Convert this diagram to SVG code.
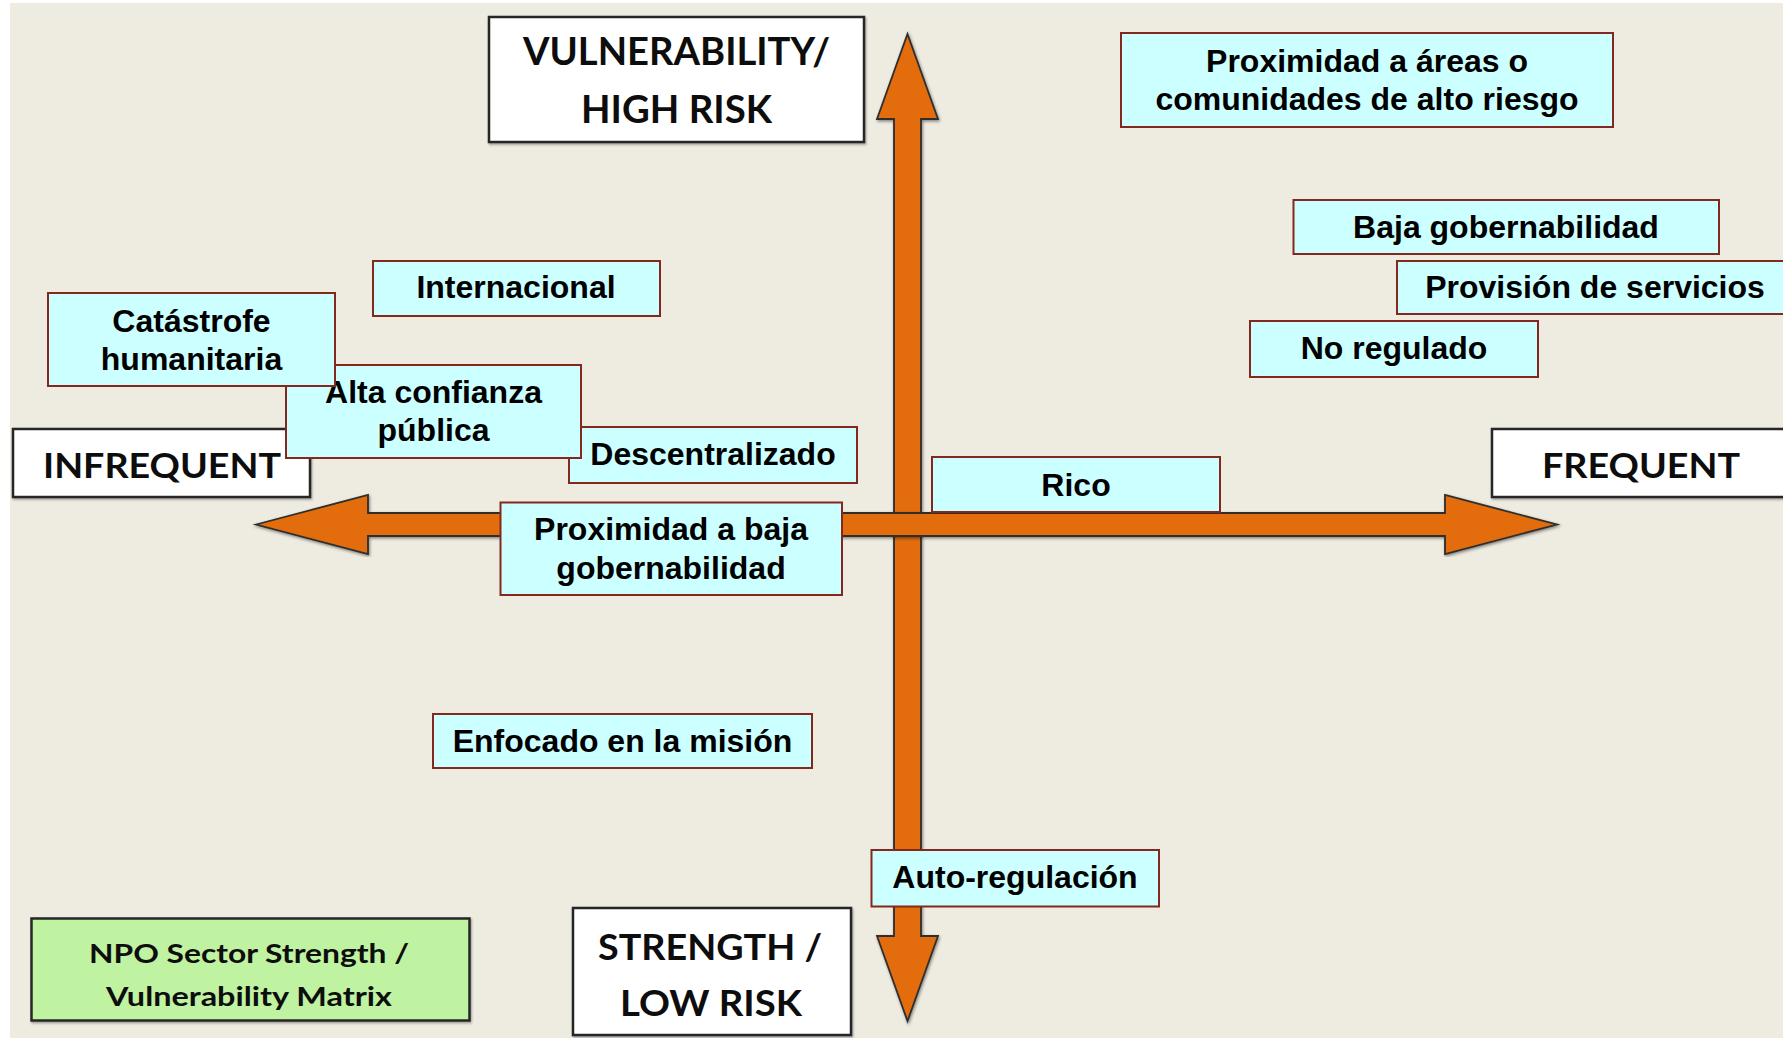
<svg xmlns="http://www.w3.org/2000/svg" width="1783" height="1038" viewBox="0 0 1783 1038">
  <style>
    .tag rect { fill: #CCFFFF; stroke: #84281D; stroke-width: 2; }
    .tag text { font-family: "Liberation Sans", Arial, sans-serif; font-weight: bold; font-size: 32px; fill: #000; text-anchor: middle; }
    .pole rect { fill: #FFFFFF; stroke: #262626; stroke-width: 2.5; filter: url(#boxShadow); }
    .pole text, .title text { font-family: Lato, "Open Sans", sans-serif; font-weight: bold; fill: #0D0D0D; text-anchor: middle; }
    .title rect { fill: #BFF2A1; stroke: #262626; stroke-width: 2.5; filter: url(#boxShadow); }
    .axis { fill: #E36C0A; stroke: #2E2E2E; stroke-width: 1.8; stroke-linejoin: miter; filter: url(#axisShadow); }
  </style>
  <defs>
    <filter id="axisShadow" x="-5%" y="-5%" width="110%" height="110%">
      <feDropShadow dx="1" dy="1.5" stdDeviation="1.5" flood-color="#000" flood-opacity="0.45"/>
    </filter>
    <filter id="boxShadow" x="-5%" y="-5%" width="110%" height="115%">
      <feDropShadow dx="1" dy="1.5" stdDeviation="1" flood-color="#000" flood-opacity="0.35"/>
    </filter>
  </defs>

  <!-- canvas -->
  <rect x="0" y="0" width="1783" height="1038" fill="#FFFFFF"/>
  <rect x="10" y="3" width="1773" height="1035" fill="#EEEBE1"/>

  <!-- axes: vertical (vulnerability / strength) and horizontal (infrequent / frequent) -->
  <g id="axes">
    <path class="axis" d="M907.5,34 L938,119 L921,119 L921,936 L938,936 L907.5,1021 L877,936 L894,936 L894,119 L877,119 Z"/>
    <path class="axis" d="M256,524.5 L368,495 L368,513 L1445,513 L1445,495 L1557,524.5 L1445,554 L1445,536 L368,536 L368,554 Z"/>
  </g>

  <!-- axis pole labels -->
  <g id="pole-high-risk" class="pole">
    <rect x="489" y="17" width="375" height="125"/>
    <text x="676.5" y="65" font-size="38" textLength="307" lengthAdjust="spacingAndGlyphs">VULNERABILITY/</text>
    <text x="676.5" y="123" font-size="38" textLength="191" lengthAdjust="spacingAndGlyphs">HIGH RISK</text>
  </g>
  <g id="pole-infrequent" class="pole">
    <rect x="13" y="429" width="297" height="68"/>
    <text x="162" y="478" font-size="35" textLength="238" lengthAdjust="spacingAndGlyphs">INFREQUENT</text>
  </g>
  <g id="pole-frequent" class="pole">
    <rect x="1492" y="429" width="310" height="68"/>
    <text x="1641" y="478" font-size="35" textLength="198" lengthAdjust="spacingAndGlyphs">FREQUENT</text>
  </g>
  <g id="pole-low-risk" class="pole">
    <rect x="573" y="908" width="278" height="127"/>
    <text x="710" y="960" font-size="36" textLength="224" lengthAdjust="spacingAndGlyphs">STRENGTH /</text>
    <text x="711" y="1016" font-size="36" textLength="182" lengthAdjust="spacingAndGlyphs">LOW RISK</text>
  </g>

  <!-- matrix title -->
  <g id="matrix-title" class="title">
    <rect x="31.5" y="918.5" width="438" height="102"/>
    <text x="249" y="963" font-size="27" textLength="320" lengthAdjust="spacingAndGlyphs">NPO Sector Strength /</text>
    <text x="249" y="1006" font-size="27" textLength="286" lengthAdjust="spacingAndGlyphs">Vulnerability Matrix</text>
  </g>

  <!-- factor tags -->
  <g id="tag-descentralizado" class="tag">
    <rect x="569" y="427" width="288" height="56"/>
    <text x="713" y="465">Descentralizado</text>
  </g>
  <g id="tag-alta-confianza" class="tag">
    <rect x="286" y="365" width="295" height="93"/>
    <text x="433.5" y="403">Alta confianza</text>
    <text x="433.5" y="441">pública</text>
  </g>
  <g id="tag-catastrofe" class="tag">
    <rect x="48" y="293" width="287" height="93"/>
    <text x="191.5" y="332">Catástrofe</text>
    <text x="191.5" y="370">humanitaria</text>
  </g>
  <g id="tag-internacional" class="tag">
    <rect x="373" y="261" width="287" height="55"/>
    <text x="516" y="298">Internacional</text>
  </g>
  <g id="tag-proximidad-areas" class="tag">
    <rect x="1121" y="33" width="492" height="94"/>
    <text x="1367" y="72">Proximidad a áreas o</text>
    <text x="1367" y="110">comunidades de alto riesgo</text>
  </g>
  <g id="tag-baja-gobernabilidad" class="tag">
    <rect x="1293.5" y="200" width="425.5" height="54"/>
    <text x="1506" y="238">Baja gobernabilidad</text>
  </g>
  <g id="tag-provision-servicios" class="tag">
    <rect x="1397" y="261" width="400" height="53"/>
    <text x="1595" y="298">Provisión de servicios</text>
  </g>
  <g id="tag-no-regulado" class="tag">
    <rect x="1250" y="321" width="288" height="56"/>
    <text x="1394" y="359">No regulado</text>
  </g>
  <g id="tag-rico" class="tag">
    <rect x="932" y="457" width="288" height="55"/>
    <text x="1076" y="496">Rico</text>
  </g>
  <g id="tag-proximidad-baja" class="tag">
    <rect x="500.5" y="502.5" width="341.5" height="92.5"/>
    <text x="671" y="540">Proximidad a baja</text>
    <text x="671" y="579">gobernabilidad</text>
  </g>
  <g id="tag-enfocado" class="tag">
    <rect x="433" y="714" width="379" height="54"/>
    <text x="622.5" y="752">Enfocado en la misión</text>
  </g>
  <g id="tag-auto-regulacion" class="tag">
    <rect x="871.5" y="850" width="287.5" height="56.5"/>
    <text x="1015" y="888">Auto-regulación</text>
  </g>
</svg>
